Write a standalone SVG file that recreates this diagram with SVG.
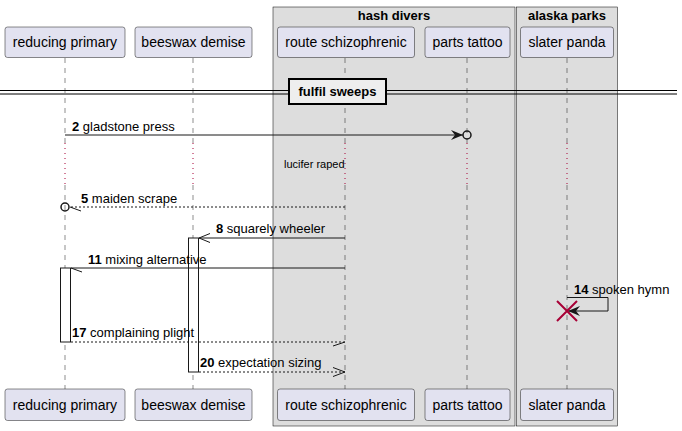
<svg xmlns="http://www.w3.org/2000/svg" width="682" height="431" viewBox="0 0 682 431">
<style>
text{font-family:"Liberation Sans",Arial,sans-serif;fill:#000}
.p rect{fill:#E2E2F0;stroke:#181818;stroke-width:0.5}
.p text{font-size:14px;text-anchor:middle}
.grp{fill:#DDDDDD;stroke:#000;stroke-width:0.5}
.gt{font-size:13px;font-weight:bold;text-anchor:middle}
.life{stroke:#181818;stroke-width:0.5;stroke-dasharray:5,5;fill:none}
.delay{stroke:#A80036;stroke-width:1;stroke-dasharray:1,4;fill:none}
.m{font-size:13px}
.n{font-weight:bold}
.ln{stroke:#181818;stroke-width:1;fill:none}
.dl{stroke:#181818;stroke-width:1;fill:none;stroke-dasharray:2,2}
.act{fill:#FFFFFF;stroke:#181818;stroke-width:1}
</style>
<defs>
<marker id="filled" markerWidth="12" markerHeight="10" refX="12" refY="5" orient="auto" markerUnits="userSpaceOnUse"><path d="M0,0 L12,5 L0,10 L4,5 Z" fill="#181818"/></marker>
</defs>
<g id="group-hash-divers">
<rect class="grp" x="273" y="7" width="242" height="419"/>
<text class="gt" x="394" y="20">hash divers</text>
</g>
<g id="group-alaska-parks">
<rect class="grp" x="516.5" y="7" width="101" height="419"/>
<text class="gt" x="567" y="20">alaska parks</text>
</g>
<g id="lifelines">
<path class="life" d="M65,58 V143 M65,185 V389 M193,58 V143 M193,185 V389 M345,58 V143 M345,185 V389 M467,58 V143 M467,185 V389 M567,58 V143 M567,185 V389"/>
<path class="delay" d="M65,143 V185 M193,143 V185 M345,143 V185 M467,143 V185 M567,143 V185"/>
</g>
<g id="p-reducing-primary" class="p">
<rect x="5" y="27" width="120" height="30.5" rx="2.5"/><text x="65" y="47">reducing primary</text>
<rect x="5" y="389" width="120" height="31.5" rx="2.5"/><text x="65" y="410">reducing primary</text>
</g>
<g id="p-beeswax-demise" class="p">
<rect x="135" y="27" width="117" height="30.5" rx="2.5"/><text x="193.5" y="47">beeswax demise</text>
<rect x="135" y="389" width="117" height="31.5" rx="2.5"/><text x="193.5" y="410">beeswax demise</text>
</g>
<g id="p-route-schizophrenic" class="p">
<rect x="277.5" y="27" width="137" height="30.5" rx="2.5"/><text x="346" y="47">route schizophrenic</text>
<rect x="277.5" y="389" width="137" height="31.5" rx="2.5"/><text x="346" y="410">route schizophrenic</text>
</g>
<g id="p-parts-tattoo" class="p">
<rect x="425" y="27" width="85" height="30.5" rx="2.5"/><text x="467.5" y="47">parts tattoo</text>
<rect x="425" y="389" width="85" height="31.5" rx="2.5"/><text x="467.5" y="410">parts tattoo</text>
</g>
<g id="p-slater-panda" class="p">
<rect x="520.5" y="27" width="93" height="30.5" rx="2.5"/><text x="567" y="47">slater panda</text>
<rect x="520.5" y="389" width="93" height="31.5" rx="2.5"/><text x="567" y="410">slater panda</text>
</g>
<g id="divider">
<path d="M0,90.5 H677 M0,94 H677" stroke="#000" stroke-width="1" fill="none"/>
<rect x="289" y="79" width="97" height="25" fill="#EEEEEE" stroke="#000" stroke-width="2"/>
<text class="gt" x="337.5" y="96">fulfil sweeps</text>
</g>
<g id="activations">
<rect class="act" x="60.5" y="268" width="10" height="74"/>
<rect class="act" x="188.5" y="238" width="10" height="134"/>
</g>
<g id="connectors">
<path class="ln" d="M65,135 H463" marker-end="url(#filled)"/>
<circle cx="467" cy="135" r="4" fill="none" stroke="#181818" stroke-width="1.5"/>
<path class="dl" d="M345,207 H69"/>
<circle cx="65" cy="207" r="4" fill="none" stroke="#181818" stroke-width="1.5"/>
<path class="ln" d="M70,207 L81,211"/>
<path class="ln" d="M345,238 H199 M210,233.5 L199,238 L210,242.5"/>
<path class="ln" d="M345,268 H71 M71,268 L82,272"/>
<path class="ln" d="M567,297.5 H608 V311 H568" marker-end="url(#filled)"/>
<path d="M557,301 L577,321 M577,301 L557,321" stroke="#A80036" stroke-width="2" fill="none"/>
<path class="dl" d="M71,342 H345"/>
<path class="ln" d="M345,342 L333,346"/>
<path class="dl" d="M199,372 H345"/>
<path class="ln" d="M333,367.5 L345,372 L333,376.5"/>
</g>
<g id="labels" class="m">
<text x="72" y="131"><tspan class="n">2</tspan> gladstone press</text>
<text x="284" y="168" style="font-size:11px">lucifer raped</text>
<text x="81" y="203"><tspan class="n">5</tspan> maiden scrape</text>
<text x="216" y="233"><tspan class="n">8</tspan> squarely wheeler</text>
<text x="88" y="264"><tspan class="n">11</tspan> mixing alternative</text>
<text x="574" y="294"><tspan class="n">14</tspan> spoken hymn</text>
<text x="72" y="337"><tspan class="n">17</tspan> complaining plight</text>
<text x="200" y="367"><tspan class="n">20</tspan> expectation sizing</text>
</g>
</svg>
